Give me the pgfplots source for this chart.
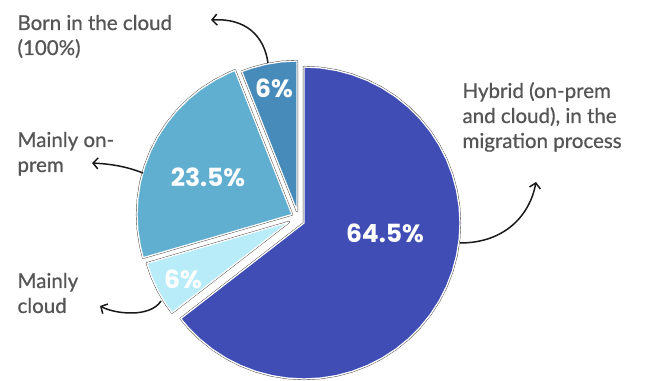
\documentclass[border=0pt]{standalone}
\usepackage{pgfplots}
\pgfplotsset{compat=1.18}
\usepackage{fontspec}
\setmainfont{Lato}
\newfontfamily\lblfont{Lato}[FakeBold=0.7]
\newfontfamily\numfont{Poppins}
\usetikzlibrary{arrows.meta}
\definecolor{cHybrid}{HTML}{3F4DB5}
\definecolor{cBorn}{HTML}{468BBA}
\definecolor{cPrem}{HTML}{61AFD0}
\definecolor{cCloud}{HTML}{B9ECF9}
\definecolor{txt}{HTML}{555555}
\definecolor{edge}{HTML}{3A3A3A}
\begin{document}
\begin{tikzpicture}[
  outer/.style={draw=edge, line width=2.1pt, fill=white},
  inner/.style={draw=white, line width=1.3pt, fill=#1},
  lbl/.style={anchor=base west, font=\lblfont\fontsize{20.5}{24}\selectfont, text=txt},
  pct/.style={font=\numfont\bfseries\fontsize{25}{30}\selectfont, text=white},
  arr/.style={draw=black!90, line width=1.5pt, -{Straight Barb[length=5pt,width=11pt,line width=1.5pt]}},
]
\begin{axis}[
  x=1pt, y=1pt,
  xmin=-298, xmax=357, ymin=-159, ymax=219,
  hide axis, clip=false,
  every axis plot/.append style={data cs=polar, line join=round},
]
\path (axis cs:-298,-159) rectangle (axis cs:357,219);
% Hybrid 64.5%  (90 -> -142.2)
\addplot[outer, xshift=6pt, yshift=-4pt] coordinates {(0,0) (-142.2,156) (-138,156) (-132,156) (-126,156) (-120,156) (-114,156) (-108,156) (-102,156) (-96,156) (-90,156) (-84,156) (-78,156) (-72,156) (-66,156) (-60,156) (-54,156) (-48,156) (-42,156) (-36,156) (-30,156) (-24,156) (-18,156) (-12,156) (-6,156) (0,156) (6,156) (12,156) (18,156) (24,156) (30,156) (36,156) (42,156) (48,156) (54,156) (60,156) (66,156) (72,156) (78,156) (84,156) (90,156)} -- cycle;
\addplot[inner=cHybrid, xshift=6pt, yshift=-4pt] coordinates {(0,0) (-142.2,156) (-138,156) (-132,156) (-126,156) (-120,156) (-114,156) (-108,156) (-102,156) (-96,156) (-90,156) (-84,156) (-78,156) (-72,156) (-66,156) (-60,156) (-54,156) (-48,156) (-42,156) (-36,156) (-30,156) (-24,156) (-18,156) (-12,156) (-6,156) (0,156) (6,156) (12,156) (18,156) (24,156) (30,156) (36,156) (42,156) (48,156) (54,156) (60,156) (66,156) (72,156) (78,156) (84,156) (90,156)} -- cycle;
% Born in the cloud 6%  (90 -> 111.6)
\addplot[outer, xshift=-1pt, yshift=8pt] coordinates {(0,0) (90,150) (96,150) (102,150) (108,150) (111.6,150)} -- cycle;
\addplot[inner=cBorn, xshift=-1pt, yshift=8pt] coordinates {(0,0) (90,150) (96,150) (102,150) (108,150) (111.6,150)} -- cycle;
% Mainly on-prem 23.5%  (111.6 -> 196.2)
\addplot[outer, xshift=-6pt, yshift=4.5pt] coordinates {(0,0) (111.6,155) (114,155) (120,155) (126,155) (132,155) (138,155) (144,155) (150,155) (156,155) (162,155) (168,155) (174,155) (180,155) (186,155) (192,155) (196.2,155)} -- cycle;
\addplot[inner=cPrem, xshift=-6pt, yshift=4.5pt] coordinates {(0,0) (111.6,155) (114,155) (120,155) (126,155) (132,155) (138,155) (144,155) (150,155) (156,155) (162,155) (168,155) (174,155) (180,155) (186,155) (192,155) (196.2,155)} -- cycle;
% Mainly cloud 6%  (196.2 -> 217.8)
\addplot[outer, xshift=-9pt, yshift=-3pt] coordinates {(0,0) (196.2,148) (202,148) (208,148) (214,148) (217.8,148)} -- cycle;
\addplot[inner=cCloud, xshift=-9pt, yshift=-3pt] coordinates {(0,0) (196.2,148) (202,148) (208,148) (214,148) (217.8,148)} -- cycle;

% percentages
\node[pct] at (axis cs:-24,131) {6\%};
\node[pct] at (axis cs:-90,42) {23.5\%};
\node[pct] at (axis cs:87,-14) {64.5\%};
\node[pct] at (axis cs:-115,-60) {6\%};

% labels
\node[lbl] at (axis cs:-284,189) {Born in the cloud};
\node[lbl] at (axis cs:-284,164) {(100\%)};
\node[lbl] at (axis cs:-284,72) {Mainly on-};
\node[lbl] at (axis cs:-284,47) {prem};
\node[lbl] at (axis cs:-284,-69) {Mainly};
\node[lbl] at (axis cs:-284,-94) {cloud};
\node[lbl] at (axis cs:161,121) {Hybrid (on-prem};
\node[lbl] at (axis cs:161,96) {and cloud), in the};
\node[lbl] at (axis cs:161,71) {migration process};

% arrows
\draw[arr] (axis cs:-30,156) .. controls (axis cs:-34,184) and (axis cs:-53,201) .. (axis cs:-87,199);
\draw[arr] (axis cs:-155,46) .. controls (axis cs:-173,53) and (axis cs:-188,55) .. (axis cs:-206,56);
\draw[arr] (axis cs:-137,-82) .. controls (axis cs:-148,-99) and (axis cs:-183,-95) .. (axis cs:-198,-87);
\draw[arr] (axis cs:162,-24) .. controls (axis cs:207,-24) and (axis cs:232,4) .. (axis cs:238,37);
\end{axis}
\end{tikzpicture}
\end{document}
